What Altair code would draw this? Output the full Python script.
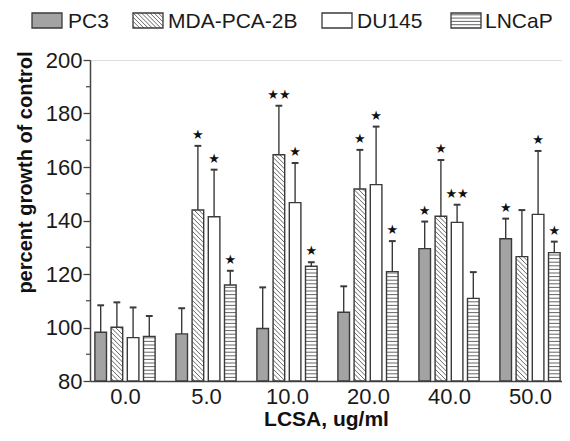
import altair as alt
import pandas as pd

# ---------------- data ----------------
groups = ["0.0", "5.0", "10.0", "20.0", "40.0", "50.0"]
series = ["PC3", "MDA-PCA-2B", "DU145", "LNCaP"]

pc3_mean = [98.2, 97.6, 99.6, 105.7, 129.5, 133.2]
pc3_err = [10.1, 9.6, 15.4, 9.7, 10.1, 7.5]
mda_mean = [100.1, 143.9, 164.6, 151.8, 141.6, 126.5]
mda_err = [9.3, 24.0, 18.3, 14.6, 21.0, 17.4]
du145_mean = [96.2, 141.4, 146.7, 153.4, 139.3, 142.3]
du145_err = [11.3, 17.6, 14.8, 21.7, 6.6, 23.7]
lncap_mean = [96.7, 115.9, 122.9, 120.9, 110.9, 128.0]
lncap_err = [7.6, 5.3, 1.5, 11.4, 9.8, 4.1]

pc3_sig = ["", "", "", "", "*", "*"]
mda_sig = ["", "*", "**", "*", "*", ""]
du145_sig = ["", "*", "*", "*", "**", "*"]
lncap_sig = ["", "*", "*", "*", "", "*"]

y_major = [80, 100, 120, 140, 160, 180, 200]
y_minor = [90, 110, 130, 150, 170, 190]

# ---------------- layout / style constants ----------------
W, H = 472, 321
XMIN, XMAX = -0.432, 5.395
YMIN, YMAX = 80, 200
PX = W / (XMAX - XMIN)
PY = H / (YMAX - YMIN)
OFFSETS = [-0.3, -0.1, 0.1, 0.3]
HALF = 5.8 / PX
CAP = 3.4 / PX
FILLS = ["#a3a3a3", "#ffffff", "#ffffff", "#ffffff"]
EDGE = "#3a3a3a"
HATCH = "#555555"
FONT = "Liberation Sans"

means = [pc3_mean, mda_mean, du145_mean, lncap_mean]
errs = [pc3_err, mda_err, du145_err, lncap_err]
sigs = [pc3_sig, mda_sig, du145_sig, lncap_sig]
kinds = ["solid", "diag", "solid", "stripe"]


def diag_segments(x0, x1, yb, yt, step):
    """45-degree '\\' hatch lines clipped to a box (pixel units, y up)."""
    w = x1 - x0
    segs = []
    c = yb + step * 0.6
    while c < yt + w:
        xs = max(x0, x0 + c - yt)
        xe = min(x1, x0 + c - yb)
        if xe - xs > 0.4:
            segs.append((xs, c - (xs - x0), xe, c - (xe - x0)))
        c += step
    return segs


def stripe_levels(yb, yt, step):
    out = []
    v = yb + step
    while v < yt - 1.0:
        out.append(v)
        v += step
    return out


rows, hatch_rows = [], []
for gi, g in enumerate(groups):
    for si, s in enumerate(series):
        m = means[si][gi]
        top = m + errs[si][gi]
        xc = gi + OFFSETS[si]
        sig = sigs[si][gi]
        rows.append(dict(group=g, series=s, x=xc, xl=xc - HALF, xr=xc + HALF,
                         cl=xc - CAP, cr=xc + CAP, mean=m, top=top,
                         star="★" * len(sig)))
        if kinds[si] == "diag":
            for (a, b, c2, d) in diag_segments((xc - HALF) * PX, (xc + HALF) * PX,
                                               YMIN * PY, m * PY, 4.6):
                hatch_rows.append(dict(x=a / PX, y=b / PY, x2=c2 / PX, y2=d / PY))
        elif kinds[si] == "stripe":
            for v in stripe_levels(YMIN * PY, m * PY, 3.6):
                hatch_rows.append(dict(x=xc - HALF, y=v / PY, x2=xc + HALF, y2=v / PY))

df = pd.DataFrame(rows)
hdf = pd.DataFrame(hatch_rows)
minor_df = pd.DataFrame({"v": y_minor})

xs = alt.Scale(domain=[XMIN, XMAX], nice=False, zero=False)
ys = alt.Scale(domain=[YMIN, YMAX], nice=False, zero=False)

label_expr = "[" + ",".join("'%s'" % g for g in groups) + "][datum.value]"

x_axis = alt.Axis(values=list(range(len(groups))), labelExpr=label_expr,
                  title="LCSA, ug/ml", tickSize=0, labelPadding=5,
                  labelFont=FONT, labelFontSize=22, labelColor="#1a1a1a",
                  titleFont=FONT, titleFontSize=21, titleFontWeight="bold",
                  titleColor="#111111", titlePadding=1,
                  domainColor="#444444", domainWidth=1.5, grid=False)
y_axis = alt.Axis(values=y_major, title="percent growth of control",
                  tickSize=7, tickColor="#444444", tickWidth=1.3, labelPadding=1,
                  labelFont=FONT, labelFontSize=22, labelColor="#1a1a1a",
                  titleFont=FONT, titleFontSize=20, titleFontWeight="bold",
                  titleColor="#111111", titleX=-65, titleY=112,
                  titleAlign="center", titleBaseline="middle",
                  domainColor="#444444", domainWidth=1.5, grid=False)

color = alt.Color("series:N", scale=alt.Scale(domain=series, range=FILLS), legend=None)

bars = alt.Chart(df).mark_rect(strokeWidth=0).encode(
    x=alt.X("xl:Q", scale=xs, axis=x_axis), x2="xr:Q",
    y=alt.Y("mean:Q", scale=ys, axis=y_axis), y2=alt.datum(YMIN),
    fill=color)

hatch = alt.Chart(hdf).mark_rule(color=HATCH, strokeWidth=0.9).encode(
    x=alt.X("x:Q", scale=xs), x2="x2:Q",
    y=alt.Y("y:Q", scale=ys), y2="y2:Q")

outline = alt.Chart(df).mark_rect(fillOpacity=0, stroke=EDGE, strokeWidth=1.4).encode(
    x=alt.X("xl:Q", scale=xs), x2="xr:Q",
    y=alt.Y("mean:Q", scale=ys), y2=alt.datum(YMIN))

err = alt.Chart(df).mark_rule(color=EDGE, strokeWidth=1.4).encode(
    x=alt.X("x:Q", scale=xs), y=alt.Y("mean:Q", scale=ys), y2="top:Q")

caps = alt.Chart(df).mark_rule(color=EDGE, strokeWidth=2).encode(
    x=alt.X("cl:Q", scale=xs), x2="cr:Q", y=alt.Y("top:Q", scale=ys))

stars = alt.Chart(df).mark_text(font="DejaVu Sans", fontSize=13, color="#111111",
                                baseline="middle", dy=-11).encode(
    x=alt.X("x:Q", scale=xs), y=alt.Y("top:Q", scale=ys), text="star:N")

minor = alt.Chart(minor_df).mark_rule(color="#444444", strokeWidth=1.2).encode(
    x=alt.value(0), x2=alt.value(-4), y=alt.Y("v:Q", scale=ys))

# ---------------- custom legend (pixel space above the plot) ----------------
LEG_SW = [-58, 43, 232, 361]
LEG_TX = [-22, 78, 267, 395]
SW_W, SW_T, SW_B = 30, -47, -32
leg_rows, leg_hatch = [], []
for si, s in enumerate(series):
    x0 = LEG_SW[si]
    leg_rows.append(dict(series=s, x0=x0, x1=x0 + SW_W, y0=SW_T, y1=SW_B, tx=LEG_TX[si]))
    if kinds[si] == "diag":
        for (a, b, c2, d) in diag_segments(x0, x0 + SW_W, -SW_B, -SW_T, 4.2):
            leg_hatch.append(dict(x=a, y=-b, x2=c2, y2=-d))
    elif kinds[si] == "stripe":
        for v in stripe_levels(-SW_B, -SW_T, 3.3):
            leg_hatch.append(dict(x=x0, y=-v, x2=x0 + SW_W, y2=-v))
ldf = pd.DataFrame(leg_rows)
lhdf = pd.DataFrame(leg_hatch)

leg_fill = alt.Chart(ldf).mark_rect(strokeWidth=0).encode(
    x=alt.X("x0:Q", scale=None), x2="x1:Q", y=alt.Y("y0:Q", scale=None), y2="y1:Q",
    fill=color)
leg_hatch_l = alt.Chart(lhdf).mark_rule(color=HATCH, strokeWidth=0.9).encode(
    x=alt.X("x:Q", scale=None), x2="x2:Q", y=alt.Y("y:Q", scale=None), y2="y2:Q")
leg_box = alt.Chart(ldf).mark_rect(fillOpacity=0, stroke=EDGE, strokeWidth=1.3).encode(
    x=alt.X("x0:Q", scale=None), x2="x1:Q", y=alt.Y("y0:Q", scale=None), y2="y1:Q")
leg_text = alt.Chart(ldf).mark_text(font=FONT, fontSize=21, color="#1a1a1a",
                                    align="left", baseline="alphabetic").encode(
    x=alt.X("tx:Q", scale=None), y=alt.Y("y1:Q", scale=None), text="series:N")

chart = alt.layer(bars, hatch, outline, err, caps, stars, minor,
                  leg_fill, leg_hatch_l, leg_box, leg_text).properties(
    width=W, height=H,
    padding={"left": 82, "top": 52, "right": 0, "bottom": 52},
    autosize=alt.AutoSizeParams(type="none"),
).configure_view(stroke=None).configure(background="white")

chart.save("out.html", embed_options={"renderer": "svg", "actions": False})
